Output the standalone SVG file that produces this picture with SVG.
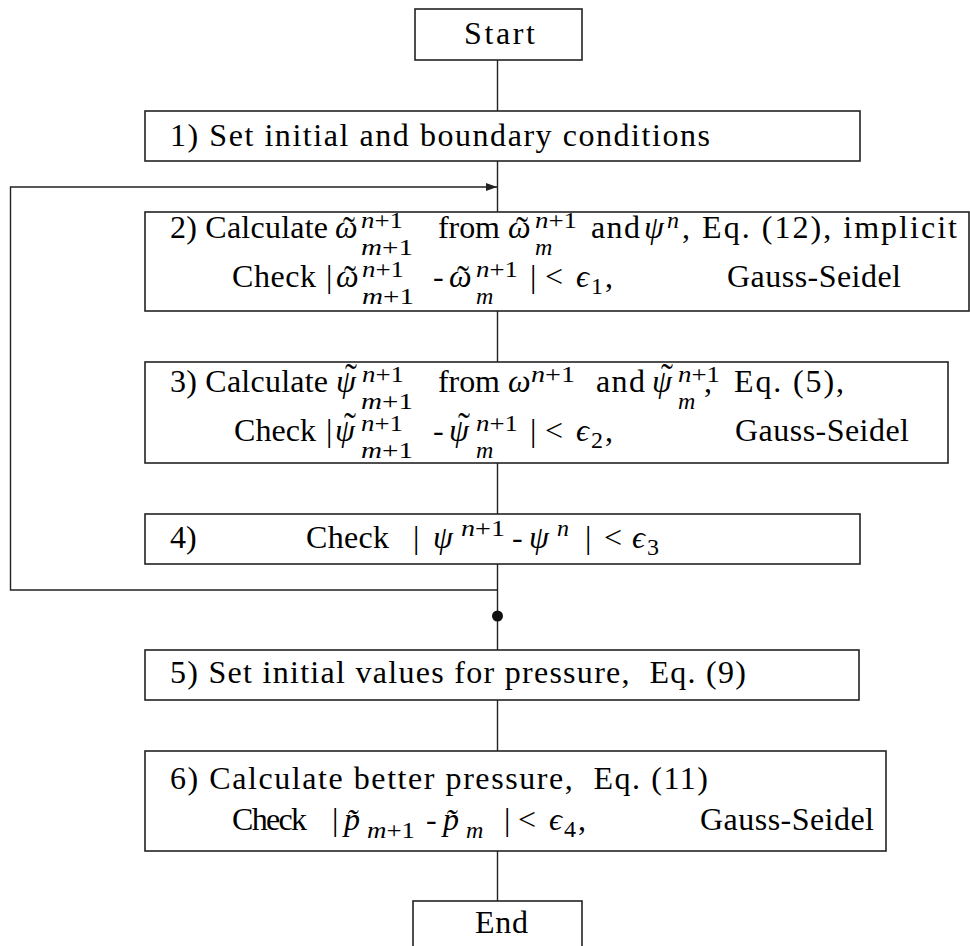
<svg xmlns="http://www.w3.org/2000/svg" width="970" height="946" viewBox="0 0 970 946">
<defs>
<style>
text{font-family:'Liberation Serif','Times New Roman',serif;font-size:32px;fill:#000}
.i{font-style:italic}
.s{font-size:24px}
.tl{font-size:36px;text-anchor:middle}
.box{fill:#fff;stroke:#222;stroke-width:1.6}
.ln{stroke:#222;stroke-width:1.4;fill:none}
</style>
<marker id="ah" markerWidth="12" markerHeight="8" refX="11" refY="4" orient="auto" markerUnits="userSpaceOnUse">
<path d="M0,0 L11,4 L0,8 Z" fill="#222"/>
</marker>
</defs>
<rect width="970" height="946" fill="#fff"/>
<g id="connectors">
<line class="ln" x1="497.5" y1="60" x2="497.5" y2="111"/>
<line class="ln" x1="497.5" y1="161" x2="497.5" y2="212"/>
<line class="ln" x1="497.5" y1="311" x2="497.5" y2="362"/>
<line class="ln" x1="497.5" y1="463" x2="497.5" y2="514"/>
<line class="ln" x1="497.5" y1="564" x2="497.5" y2="650"/>
<line class="ln" x1="497.5" y1="700" x2="497.5" y2="751"/>
<line class="ln" x1="497.5" y1="851" x2="497.5" y2="901"/>
<polyline class="ln" points="497.5,590 10.5,590 10.5,187 497,187" marker-end="url(#ah)"/>
<circle cx="497.5" cy="616" r="5.5" fill="#111"/>
</g>
<g id="start">
<rect class="box" x="415" y="9" width="167" height="51"/>
<text x="464" y="44" textLength="71">Start</text>
</g>
<g id="step1">
<rect class="box" x="145" y="111" width="715" height="50"/>
<text x="170" y="146" textLength="540">1) Set initial and boundary conditions</text>
</g>
<g id="step2">
<rect class="box" x="145" y="212" width="824" height="99"/>
<text x="170" y="238" textLength="158">2) Calculate</text>
<text class="i" x="335" y="238">ω</text>
<text class="tl" x="349" y="242">˜</text>
<text class="s" x="361" y="228" textLength="42" lengthAdjust="spacingAndGlyphs"><tspan class="i">n</tspan>+1</text>
<text class="s i" x="361" y="255" textLength="52" lengthAdjust="spacingAndGlyphs">m<tspan font-style="normal">+1</tspan></text>
<text x="438" y="238" textLength="62">from</text>
<text class="i" x="508" y="238">ω</text>
<text class="tl" x="522" y="242">˜</text>
<text class="s" x="535" y="228" textLength="42" lengthAdjust="spacingAndGlyphs"><tspan class="i">n</tspan>+1</text>
<text class="s i" x="535" y="255">m</text>
<text x="591" y="238" textLength="49">and</text>
<text class="i" x="644" y="238">ψ</text>
<text class="s i" x="667" y="228">n</text>
<text x="682" y="238" textLength="275">, Eq. (12), implicit</text>
<text x="232" y="287" textLength="84">Check</text>
<text x="326" y="287">|</text>
<text class="i" x="336" y="287">ω</text>
<text class="tl" x="350" y="291">˜</text>
<text class="s" x="362" y="277" textLength="42" lengthAdjust="spacingAndGlyphs"><tspan class="i">n</tspan>+1</text>
<text class="s i" x="362" y="304" textLength="52" lengthAdjust="spacingAndGlyphs">m<tspan font-style="normal">+1</tspan></text>
<text x="433" y="287">-</text>
<text class="i" x="449" y="287">ω</text>
<text class="tl" x="463" y="291">˜</text>
<text class="s" x="476" y="277" textLength="42" lengthAdjust="spacingAndGlyphs"><tspan class="i">n</tspan>+1</text>
<text class="s i" x="476" y="304">m</text>
<text x="530" y="287">|</text>
<text x="545" y="287">&lt;</text>
<text class="i" x="576" y="287">ϵ</text>
<text class="s" x="591" y="294">1</text>
<text x="605" y="287">,</text>
<text x="727" y="287" textLength="174">Gauss-Seidel</text>
</g>
<g id="step3">
<rect class="box" x="145" y="362" width="803" height="101"/>
<text x="170" y="392" textLength="158">3) Calculate</text>
<text class="i" x="336" y="392">ψ</text>
<text class="tl" x="351" y="389">˜</text>
<text class="s" x="362" y="382" textLength="42" lengthAdjust="spacingAndGlyphs"><tspan class="i">n</tspan>+1</text>
<text class="s i" x="361" y="409" textLength="52" lengthAdjust="spacingAndGlyphs">m<tspan font-style="normal">+1</tspan></text>
<text x="438" y="392" textLength="62">from</text>
<text class="i" x="508" y="392">ω</text>
<text class="s" x="531" y="382" textLength="44" lengthAdjust="spacingAndGlyphs"><tspan class="i">n</tspan>+1</text>
<text x="596" y="392" textLength="49">and</text>
<text class="i" x="652" y="392">ψ</text>
<text class="tl" x="667" y="389">˜</text>
<text class="s" x="678" y="382" textLength="42" lengthAdjust="spacingAndGlyphs"><tspan class="i">n</tspan>+1</text>
<text class="s i" x="678" y="409">m</text>
<text x="704" y="392">,</text>
<text x="734" y="392" textLength="110">Eq. (5),</text>
<text x="234" y="441" textLength="82">Check</text>
<text x="326" y="441">|</text>
<text class="i" x="335" y="441">ψ</text>
<text class="tl" x="350" y="438">˜</text>
<text class="s" x="361" y="431" textLength="42" lengthAdjust="spacingAndGlyphs"><tspan class="i">n</tspan>+1</text>
<text class="s i" x="361" y="458" textLength="52" lengthAdjust="spacingAndGlyphs">m<tspan font-style="normal">+1</tspan></text>
<text x="433" y="441">-</text>
<text class="i" x="449" y="441">ψ</text>
<text class="tl" x="464" y="438">˜</text>
<text class="s" x="476" y="431" textLength="42" lengthAdjust="spacingAndGlyphs"><tspan class="i">n</tspan>+1</text>
<text class="s i" x="476" y="458">m</text>
<text x="530" y="441">|</text>
<text x="545" y="441">&lt;</text>
<text class="i" x="576" y="441">ϵ</text>
<text class="s" x="591" y="448">2</text>
<text x="605" y="441">,</text>
<text x="735" y="441" textLength="174">Gauss-Seidel</text>
</g>
<g id="step4">
<rect class="box" x="145" y="514" width="715" height="50"/>
<text x="170" y="548">4)</text>
<text x="306" y="548" textLength="83">Check</text>
<text x="413" y="548">|</text>
<text class="i" x="433" y="548">ψ</text>
<text class="s" x="461" y="536" textLength="44" lengthAdjust="spacingAndGlyphs"><tspan class="i">n</tspan>+1</text>
<text x="512" y="548">-</text>
<text class="i" x="529" y="548">ψ</text>
<text class="s i" x="557" y="536">n</text>
<text x="585" y="548">|</text>
<text x="604" y="548">&lt;</text>
<text class="i" x="632" y="548">ϵ</text>
<text class="s" x="647" y="555">3</text>
</g>
<g id="step5">
<rect class="box" x="145" y="650" width="714" height="50"/>
<text x="170" y="683" textLength="576" xml:space="preserve">5) Set initial values for pressure,  Eq. (9)</text>
</g>
<g id="step6">
<rect class="box" x="145" y="751" width="741" height="100"/>
<text x="170" y="789" textLength="538" xml:space="preserve">6) Calculate better pressure,  Eq. (11)</text>
<text x="232" y="830" textLength="75">Check</text>
<text x="332" y="830">|</text>
<text class="i" x="344" y="830">p̃</text>
<text class="s i" x="367" y="838" textLength="48" lengthAdjust="spacingAndGlyphs">m<tspan font-style="normal">+1</tspan></text>
<text x="426" y="830">-</text>
<text class="i" x="443" y="830">p̃</text>
<text class="s i" x="466" y="838">m</text>
<text x="504" y="830">|</text>
<text x="518" y="830">&lt;</text>
<text class="i" x="549" y="830">ϵ</text>
<text class="s" x="564" y="837">4</text>
<text x="578" y="830">,</text>
<text x="700" y="830" textLength="174">Gauss-Seidel</text>
</g>
<g id="end">
<rect class="box" x="413" y="901" width="169" height="60"/>
<text x="475" y="933" textLength="53">End</text>
</g>
</svg>
